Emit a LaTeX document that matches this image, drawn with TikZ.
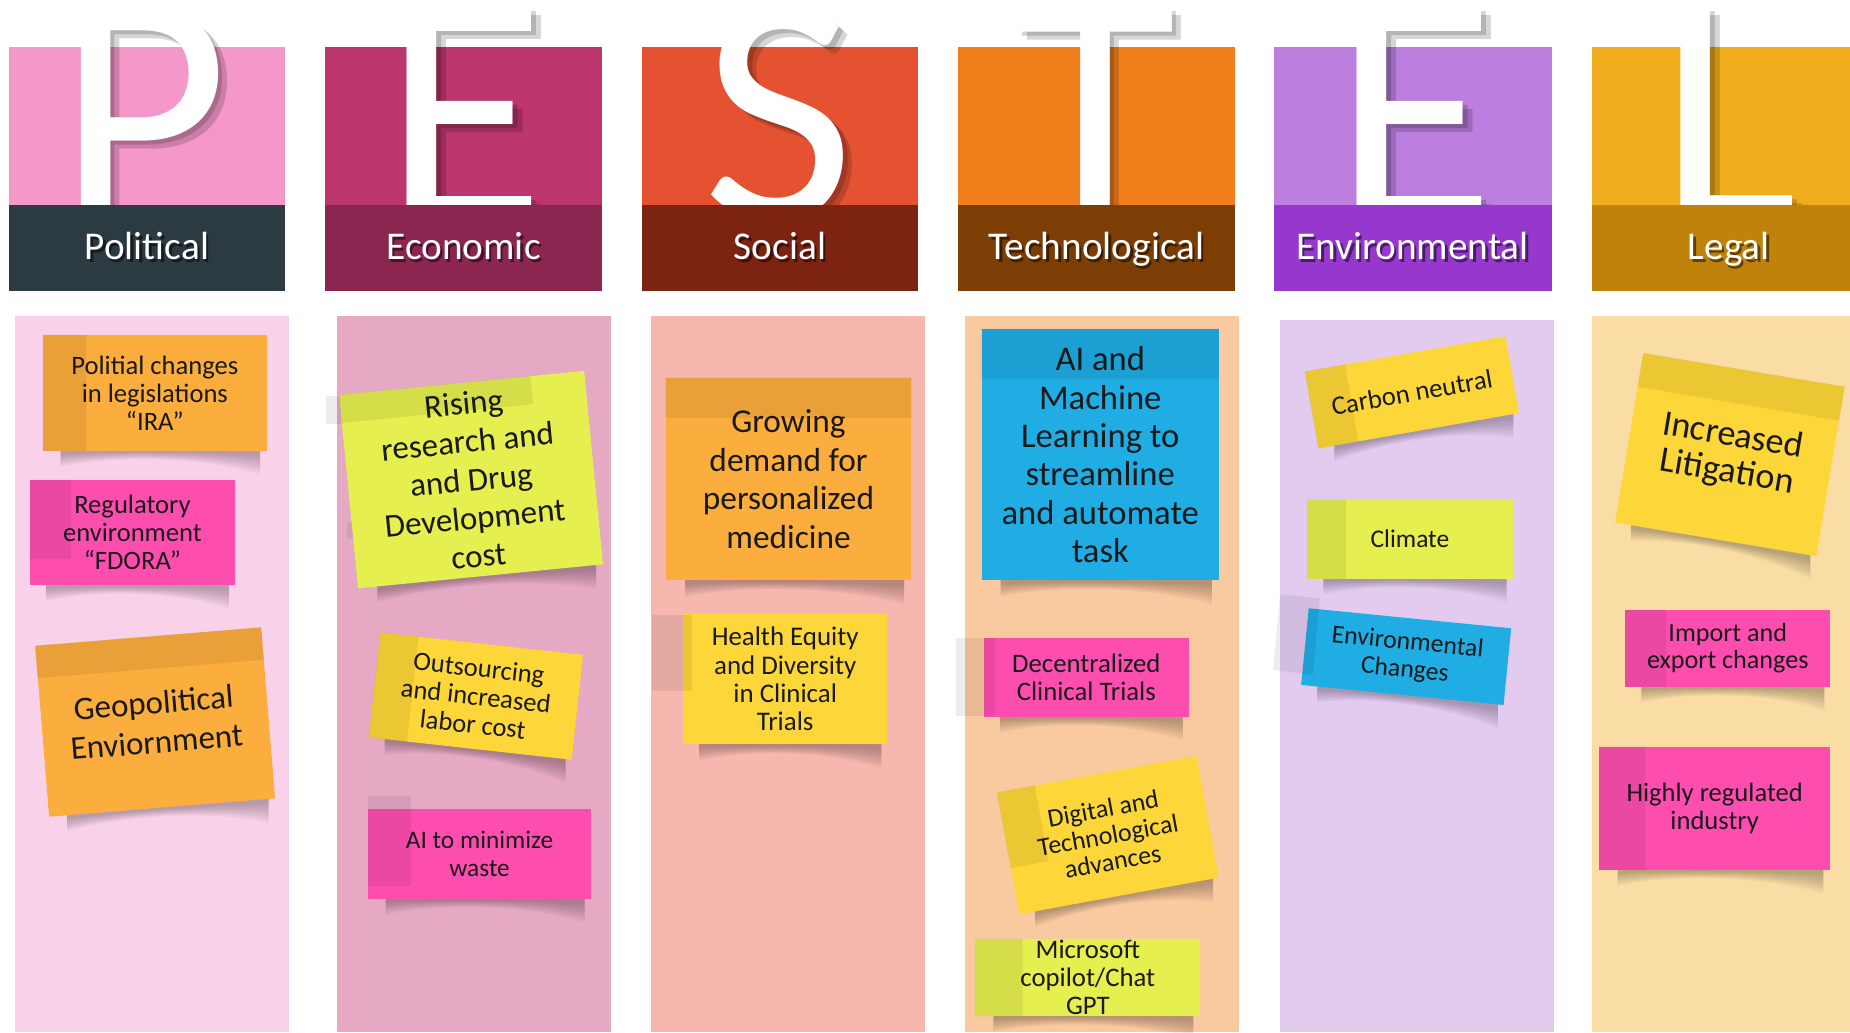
\documentclass[tikz,border=0pt]{standalone}
\usepackage{fontspec}
\setmainfont{Carlito}
\usetikzlibrary{calc}

\definecolor{polTop}{HTML}{F497C9}
\definecolor{polDark}{HTML}{2C3A42}
\definecolor{polCol}{HTML}{F9D2E9}
\definecolor{ecoTop}{HTML}{BC356D}
\definecolor{ecoDark}{HTML}{8B2651}
\definecolor{ecoCol}{HTML}{E6A9C4}
\definecolor{socTop}{HTML}{E55232}
\definecolor{socDark}{HTML}{7D2311}
\definecolor{socCol}{HTML}{F5B7AE}
\definecolor{tecTop}{HTML}{F07F1B}
\definecolor{tecDark}{HTML}{7D3E05}
\definecolor{tecCol}{HTML}{F9C9A0}
\definecolor{envTop}{HTML}{BC7FDF}
\definecolor{envDark}{HTML}{9637CD}
\definecolor{envCol}{HTML}{E3CBF0}
\definecolor{legTop}{HTML}{F0AC1C}
\definecolor{legDark}{HTML}{BF830C}
\definecolor{legCol}{HTML}{F9DDA5}
\definecolor{noteOrange}{HTML}{FBAD3D}
\definecolor{notePink}{HTML}{FD4EB0}
\definecolor{noteYellow}{HTML}{FDD739}
\definecolor{noteLime}{HTML}{E5EF4F}
\definecolor{noteBlue}{HTML}{1FADE4}

\pgfdeclarelayer{board}
\pgfdeclarelayer{shade}
\pgfsetlayers{board,shade,main}

% darker band on a sticky note: note, share of width, share of height
\newcommand\noteband[3]{%
  \coordinate (#1-t) at ($(#1.north west)!#2!(#1.north east)$);
  \coordinate (#1-b) at ($(#1.south west)!#2!(#1.south east)$);
  \fill[stripfill] (#1.north west) -- (#1-t) -- ($(#1-t)!#3!(#1-b)$)
    -- ($(#1.north west)!#3!(#1.south west)$) -- cycle;}

% soft curled shadow under a sticky note
\newcommand\noteshadow[1]{%
  \begin{pgfonlayer}{shade}
  \foreach \d in {0.3,0.45,0.6,0.75,0.9,1.05,1.2,1.35}{
    \fill[shadowfill]
      ($(#1.south west)!0.08!(#1.south east)+(0,-4)$) --
      ($(#1.south west)!0.97!(#1.south east)+(0,-4)$) --
      ($(#1.south west)!0.97!(#1.south east)+(0,15*\d)$) .. controls
      ($(#1.south west)!0.7!(#1.south east)+(0,3*\d)$) and
      ($(#1.south west)!0.3!(#1.south east)+(0,3*\d)$) ..
      ($(#1.south west)!0.08!(#1.south east)+(0,10*\d)$) -- cycle;
  }
  \end{pgfonlayer}}

\begin{document}
\begin{tikzpicture}[x=0.75pt,y=0.75pt,yscale=-1,xscale=1,
  bigltr/.style={font=\fontsize{211}{211}\selectfont, text=white, inner sep=0pt, anchor=base},
  ltrshadow/.style={text=black, text opacity=0.16},
  bandlbl/.style={font=\fontsize{25}{30}\selectfont, text=white, inner sep=0pt, anchor=base},
  lblshadow/.style={text=black, text opacity=0.5},
  note/.style={inner sep=0pt, align=center, text=black!90},
  notesize/.style 2 args={minimum width=#1*0.75pt, minimum height=#2*0.75pt},
  notefont/.style 2 args={font=\fontsize{#1}{#2}\selectfont},
  stripfill/.style={fill=black, fill opacity=0.07},
  shadowfill/.style={fill=black, fill opacity=0.035}]
        \useasboundingbox (0,0) rectangle (1568,875);

        % columns
        \begin{pgfonlayer}{board}
        \fill[polCol] (12.7,267.5) rectangle (245,875);
        \fill[ecoCol] (285.4,267.5) rectangle (518,875);
        \fill[socCol] (551.5,267.5) rectangle (783.6,875);
        \fill[tecCol] (817.8,267.5) rectangle (1050,875);
        \fill[envCol] (1084.6,271.2) rectangle (1316.7,875);
        \fill[legCol] (1349,267.8) rectangle (1568,875);
        \end{pgfonlayer}

        %Shape: Rectangle
        \fill[polTop] (7.7,40) rectangle (241.2,173.5);
        % Text Node
        \node[bigltr, ltrshadow] (ltrP-s1) at (129,193.5) {P};
        \node[bigltr, ltrshadow] (ltrP-s2) at (125,190.5) {P};
        \node[bigltr] (ltrP) at (121,186.5) {P};
        %Shape: Rectangle
        \fill[polDark] (7.7,173.5) rectangle (241.2,246.3);
        % Text Node
        \node[bandlbl, lblshadow] (lblPol-s) at (126.5,222.3) {Political};
        \node[bandlbl] (lblPol) at (124.5,220.3) {Political};

        %Shape: Rectangle
        \fill[ecoTop] (275.3,40) rectangle (510.5,173.5);
        % Text Node
        \node[bigltr, ltrshadow] (ltrE-s1) at (402,193.5) {E};
        \node[bigltr, ltrshadow] (ltrE-s2) at (398,190.5) {E};
        \node[bigltr] (ltrE) at (394,186.5) {E};
        %Shape: Rectangle
        \fill[ecoDark] (275.3,173.5) rectangle (510.5,246.3);
        % Text Node
        \node[bandlbl, lblshadow] (lblEco-s) at (394.9,222.3) {Economic};
        \node[bandlbl] (lblEco) at (392.9,220.3) {Economic};

        %Shape: Rectangle
        \fill[socTop] (544.2,40) rectangle (778,173.5);
        % Text Node
        \node[bigltr, ltrshadow] (ltrS-s1) at (668,193.5) {S};
        \node[bigltr, ltrshadow] (ltrS-s2) at (664,190.5) {S};
        \node[bigltr] (ltrS) at (660,186.5) {S};
        %Shape: Rectangle
        \fill[socDark] (544.2,173.5) rectangle (778,246.3);
        % Text Node
        \node[bandlbl, lblshadow] (lblSoc-s) at (663.1,222.3) {Social};
        \node[bandlbl] (lblSoc) at (661.1,220.3) {Social};

        %Shape: Rectangle
        \fill[tecTop] (811.8,40) rectangle (1047,173.5);
        % Text Node
        \node[bigltr, ltrshadow] (ltrT-s1) at (936,193.5) {T};
        \node[bigltr, ltrshadow] (ltrT-s2) at (932,190.5) {T};
        \node[bigltr] (ltrT) at (928,186.5) {T};
        %Shape: Rectangle
        \fill[tecDark] (811.8,173.5) rectangle (1047,246.3);
        % Text Node
        \node[bandlbl, lblshadow] (lblTec-s) at (931.4,222.3) {Technological};
        \node[bandlbl] (lblTec) at (929.4,220.3) {Technological};

        %Shape: Rectangle
        \fill[envTop] (1079.6,40) rectangle (1315,173.5);
        % Text Node
        \node[bigltr, ltrshadow] (ltrE2-s1) at (1207,193.5) {E};
        \node[bigltr, ltrshadow] (ltrE2-s2) at (1203,190.5) {E};
        \node[bigltr] (ltrE2) at (1199,186.5) {E};
        %Shape: Rectangle
        \fill[envDark] (1079.6,173.5) rectangle (1315,246.3);
        % Text Node
        \node[bandlbl, lblshadow] (lblEnv-s) at (1199.3,222.3) {Environmental};
        \node[bandlbl] (lblEnv) at (1197.3,220.3) {Environmental};

        %Shape: Rectangle
        \fill[legTop] (1349,40) rectangle (1568,173.5);
        % Text Node
        \node[bigltr, ltrshadow] (ltrL-s1) at (1473,193.5) {L};
        \node[bigltr, ltrshadow] (ltrL-s2) at (1469,190.5) {L};
        \node[bigltr] (ltrL) at (1465,186.5) {L};
        %Shape: Rectangle
        \fill[legDark] (1349,173.5) rectangle (1568,246.3);
        % Text Node
        \node[bandlbl, lblshadow] (lblLeg-s) at (1467.3,222.3) {Legal};
        \node[bandlbl] (lblLeg) at (1465.3,220.3) {Legal};

        % Political notes
        \node[note, fill=noteOrange, notesize={189.5}{98}, notefont={16.9}{17.8}] (n-ira) at (131.25,332.9) {Politial changes\\in legislations\\“IRA”};
        \noteband{n-ira}{0.195}{1}
        \noteshadow{n-ira}
        \node[note, fill=notePink, notesize={173.5}{89}, notefont={16.9}{18}] (n-fdora) at (112.25,451.3) {Regulatory\\environment\\“FDORA”};
        \noteband{n-fdora}{0.2}{0.75}
        \noteshadow{n-fdora}
        \node[note, fill=noteOrange, rotate=4.66, notesize={192.1}{145.3}, notefont={21}{25}] (n-geo) at (131.5,612) {Geopolitical\\Enviornment};
        \noteband{n-geo}{1}{0.19}
        \noteshadow{n-geo}

        % Economic notes
        \fill[stripfill] (276,335.6) rectangle (289,359.3);
        \fill[stripfill] (294,443) rectangle (300,457);
        \node[note, fill=noteLime, rotate=5.6, notesize={208.6}{164.7}, notefont={21}{24.4}] (n-rising) at (399.3,406.5) {Rising\\research and\\and Drug\\Development\\cost};
        \noteband{n-rising}{0.78}{0.146}
        \noteshadow{n-rising}
        \node[note, fill=noteYellow, rotate=-6.3, notesize={172.9}{89.4}, notefont={16.9}{18}] (n-outsrc) at (403.4,590) {Outsourcing\\and increased\\labor cost};
        \noteband{n-outsrc}{0.19}{1}
        \noteshadow{n-outsrc}
        \node[note, fill=notePink, notesize={189}{76}, notefont={16.1}{18}] (n-aiwaste) at (406.5,723.6) {AI to minimize\\waste};
        \fill[stripfill] (312,675) rectangle (348,751);
        \noteshadow{n-aiwaste}

        % Social notes
        \node[note, fill=noteOrange, notesize={208}{171.7}, notefont={21.2}{24.4}] (n-growing) at (668.3,406.15) {Growing\\demand for\\personalized\\medicine};
        \noteband{n-growing}{1}{0.2}
        \noteshadow{n-growing}
        \node[note, fill=noteYellow, notesize={173}{110.7}, notefont={17.1}{18}] (n-equity) at (665.5,575.65) {Health Equity\\and Diversity\\in Clinical\\Trials};
        \fill[stripfill] (553,521) rectangle (586.5,586);
        \noteshadow{n-equity}

        % Technological notes
        \node[note, fill=noteBlue, notesize={200.7}{213.2}, notefont={22}{24.4}] (n-aiml) at (932.55,385.4) {AI and\\Machine\\Learning to\\streamline\\and automate\\task};
        \noteband{n-aiml}{1}{0.2}
        \noteshadow{n-aiml}
        \node[note, fill=notePink, notesize={173.5}{66.6}, notefont={17}{17.3}] (n-dct) at (920.75,574) {Decentralized\\Clinical Trials};
        \fill[stripfill] (810,541) rectangle (843,607);
        \noteshadow{n-dct}
        \node[note, fill=noteYellow, rotate=10.4, notesize={171.8}{104.8}, notefont={16.5}{17}] (n-digital) at (939,707.75) {Digital and\\Technological\\advances};
        \noteband{n-digital}{0.19}{0.62}
        \noteshadow{n-digital}
        \node[note, fill=noteLime, notesize={190}{65}, notefont={17}{18}] (n-copilot) at (922,828.5) {Microsoft\\copilot/Chat\\GPT};
        \noteband{n-copilot}{0.21}{1}
        \noteshadow{n-copilot}

        % Environmental notes
        \node[note, fill=noteYellow, rotate=10, notesize={172.6}{66.1}, notefont={17}{18}] (n-carbon) at (1196.75,332.5) {Carbon neutral};
        \noteband{n-carbon}{0.2}{1}
        \noteshadow{n-carbon}
        \node[note, fill=noteLime, notesize={174}{66.7}, notefont={16.2}{18}] (n-climate) at (1195,457) {Climate};
        \noteband{n-climate}{0.19}{1}
        \noteshadow{n-climate}
        \node[note, fill=noteBlue, rotate=-5.66, notesize={172.4}{65.3}, notefont={16.4}{17.5}] (n-envchg) at (1191.8,556.5) {Environmental\\Changes};
        \fill[stripfill] (1085,503.7) -- (1118.6,507) -- (1112.7,572) -- (1079,567.8) -- cycle;
        \noteshadow{n-envchg}

        % Legal notes
        \node[note, fill=noteYellow, rotate=-9.5, notesize={172.9}{145.5}, notefont={23}{23.3}] (n-litig) at (1466.1,385.35) {Increased\\Litigation};
        \noteband{n-litig}{1}{0.2}
        \noteshadow{n-litig}
        \node[note, fill=notePink, notesize={173.6}{65}, notefont={16.6}{17}] (n-import) at (1464.4,549.5) {Import and\\export changes};
        \noteband{n-import}{0.2}{1}
        \noteshadow{n-import}
        \node[note, fill=notePink, notesize={195.4}{104.2}, notefont={16.9}{18}] (n-regul) at (1453.3,684.9) {Highly regulated\\industry};
        \noteband{n-regul}{0.2}{1}
        \noteshadow{n-regul}

\end{tikzpicture}
\end{document}
